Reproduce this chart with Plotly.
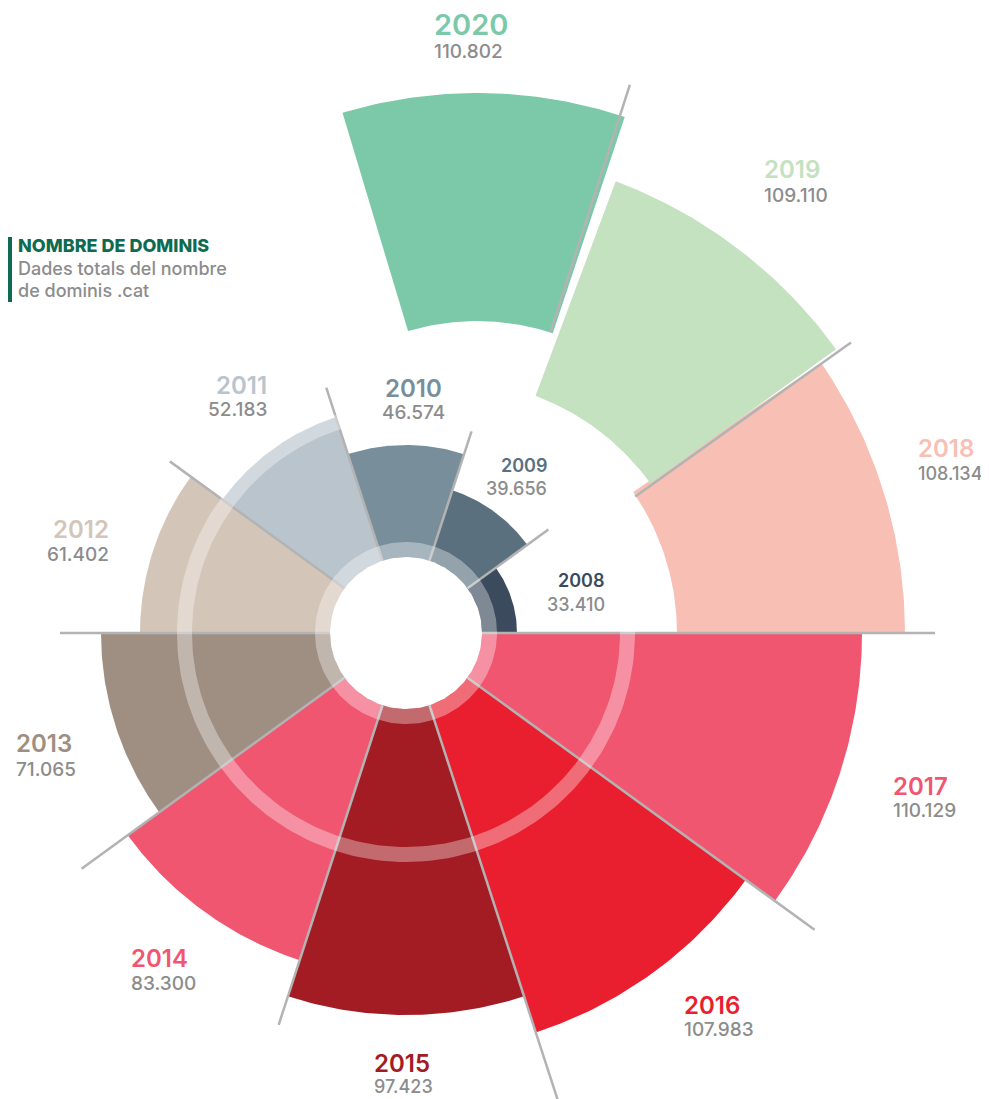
import math
import plotly.graph_objects as go

# ---------------- data ----------------
years = ["2008", "2009", "2010", "2011", "2012", "2013", "2014",
         "2015", "2016", "2017", "2018", "2019", "2020"]
domains = [33410, 39656, 46574, 52183, 61402, 71065, 83300,
           97423, 107983, 110129, 108134, 109110, 110802]

# ---------------- styles / layout ----------------
colors = ["#3b4a5c", "#5a707f", "#788e9b", "#b9c4cc", "#d4c5b9", "#9f8f83",
          "#f05670", "#a31b23", "#e91e2f", "#f05670", "#f8bfb4", "#c4e1c0",
          "#7cc9aa"]
PAGE_OFF = 8               # default body margin of the html page
W, H = 989 - PAGE_OFF, 1099 - PAGE_OFF
SX, SY = 406, 633          # spiral centre in screen pixels
CX, CY = SX - PAGE_OFF, SY - PAGE_OFF

# wedge geometry (spiral design, in pixels): apex offset, angles, radii
apex_dx = [0] * 10 + [22, 42, 71]
apex_dy = [0] * 10 + [0, 3, 72]
th_start = [0, 36, 72, 108, 144, 180, 216, 252, 288, 324, 0, 35.9, 71.6]
th_end = [36, 72, 108, 144, 180, 216, 252, 288, 324, 360, 34.5, 69.5, 106.7]
r_in = [0] * 10 + [249, 250, 240]
r_out = [111, 150, 188, 227, 266, 305, 344, 382, 420, 456, 477, 479, 468]

# separator lines: (apex dx, apex dy, angle, r0, r1)
sep_lines = [(0, 0, 0, 76, 529), (0, 0, 36, 76, 176), (0, 0, 72, 76, 212),
             (0, 0, 108, 76, 258), (0, 0, 144, 76, 292), (0, 0, 180, 76, 346),
             (0, 0, 216, 76, 401), (0, 0, 252, 76, 412), (0, 0, 288, 76, 500),
             (0, 0, 324, 76, 505), (42, 3, 35.5, 230, 495), (71, 72, 72.2, 240, 500)]

# label positions in screen pixels: (x, year y, value y, anchor, year size, value size)
label_pos = [(606, 580, 604, "right", 18, 18), (548, 465, 488, "right", 18, 18),
             (413, 388, 412, "center", 24, 19), (268, 386, 409, "right", 24, 19),
             (110, 529, 554, "right", 24, 19), (15, 744, 769, "left", 24, 19),
             (130, 958, 983, "left", 24, 19), (373, 1063, 1086, "left", 24, 18),
             (683, 1005, 1029, "left", 24, 19), (892, 786, 810, "left", 24, 19),
             (917, 449, 473, "left", 24, 18), (763, 170, 195, "left", 24, 19),
             (433, 24, 51, "left", 29, 19)]

FONT = "Inter"
VALUE_COLOR = "#8c8c8c"


def arc(cx, cy, r, a0, a1, n=60):
    pts = []
    for k in range(n + 1):
        a = math.radians(a0 + (a1 - a0) * k / n)
        pts.append((cx + r * math.cos(a), cy + r * math.sin(a)))
    return pts


def annulus(r0, r1, n=240):
    outer = arc(0, 0, r1, 0, 360, n)
    inner = arc(0, 0, r0, 360, 0, n)
    pts = outer + inner + [outer[0]]
    return [p[0] for p in pts], [p[1] for p in pts]


fig = go.Figure()

# wedges
for i, yr in enumerate(years):
    ax, ay = apex_dx[i], apex_dy[i]
    outer = arc(ax, ay, r_out[i], th_start[i], th_end[i])
    if r_in[i] > 0:
        inner = arc(ax, ay, r_in[i], th_end[i], th_start[i])
    else:
        inner = [(ax, ay)]
    pts = outer + inner + [outer[0]]
    fig.add_trace(go.Scatter(
        x=[p[0] for p in pts], y=[p[1] for p in pts], mode="lines",
        fill="toself", fillcolor=colors[i], line=dict(width=0, color=colors[i]),
        hoverinfo="text", text=f"{yr}: {domains[i]}", showlegend=False))

# separator lines
for (ax, ay, ang, r0, r1) in sep_lines:
    a = math.radians(ang)
    fig.add_trace(go.Scatter(
        x=[ax + r0 * math.cos(a), ax + r1 * math.cos(a)],
        y=[ay + r0 * math.sin(a), ay + r1 * math.sin(a)],
        mode="lines", line=dict(color="#b3b3b3", width=2.5),
        hoverinfo="skip", showlegend=False))

# translucent rings
for (r0, r1) in [(76, 91), (214, 229)]:
    xs, ys = annulus(r0, r1)
    fig.add_trace(go.Scatter(x=xs, y=ys, mode="lines", fill="toself",
                             fillcolor="rgba(255,255,255,0.35)",
                             line=dict(width=0), hoverinfo="skip", showlegend=False))

# white hole
hole = arc(0, 0, 76, 0, 360, 200)
fig.add_trace(go.Scatter(x=[p[0] for p in hole], y=[p[1] for p in hole], mode="lines",
                         fill="toself", fillcolor="white", line=dict(width=0),
                         hoverinfo="skip", showlegend=False))

annotations = []


def add_text(text, sx, sy, anchor, size, color, weight):
    annotations.append(dict(
        text=text, x=(sx - PAGE_OFF) / W, y=1 - (sy - PAGE_OFF) / H,
        xref="paper", yref="paper",
        xanchor=anchor, yanchor="middle", showarrow=False, borderpad=0,
        font=dict(family=FONT, size=size, color=color, weight=weight)))


def fmt(v):
    return f"{v:,}".replace(",", ".")


for i, yr in enumerate(years):
    px, py_y, py_v, anc, ys_, vs_ = label_pos[i]
    add_text(yr, px, py_y, anc, ys_, colors[i], 600)
    add_text(fmt(domains[i]), px, py_v, anc, vs_, VALUE_COLOR, 500)

# title block
add_text("NOMBRE DE DOMINIS", 17, 245, "left", 18, "#0e6b52", 800)
add_text("Dades totals del nombre", 17, 268, "left", 18, VALUE_COLOR, 500)
add_text("de dominis .cat", 17, 290, "left", 18, VALUE_COLOR, 500)

fig.update_layout(
    width=W, height=H, margin=dict(l=0, r=0, t=0, b=0),
    paper_bgcolor="white", plot_bgcolor="white",
    xaxis=dict(range=[-CX, W - CX], visible=False, fixedrange=True),
    yaxis=dict(range=[-(H - CY), CY], visible=False, fixedrange=True),
    annotations=annotations,
    shapes=[dict(type="rect", xref="paper", yref="paper",
                 x0=0, x1=4 / W,
                 y0=1 - (302 - PAGE_OFF) / H, y1=1 - (237 - PAGE_OFF) / H,
                 fillcolor="#0e6b52", line=dict(width=0))],
)

fig.write_html("out.html")
